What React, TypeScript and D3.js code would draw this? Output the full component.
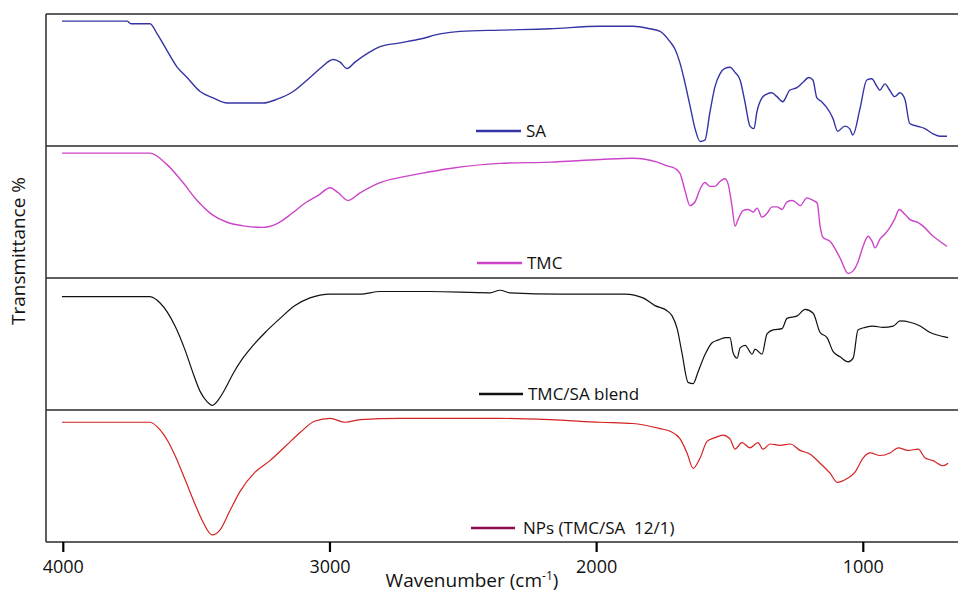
import React from "react";
import * as d3 from "d3";

// ---- data (wavenumber cm-1, transmittance in % of each panel) ----
const saWave = [4005,3761,3746,3675,3648,3611,3573,3536,3487,3438,3386,3251,3198,3138,3075,3037,2988,2962,2936,2906,2850,2812,2737,2662,2587,2512,2362,2175,1987,1864,1800,1762,1725,1706,1687,1669,1650,1631,1612,1594,1575,1556,1537,1519,1500,1481,1462,1444,1425,1410,1399,1380,1362,1343,1324,1302,1276,1249,1227,1204,1189,1174,1156,1126,1114,1096,1069,1051,1039,1013,987,968,949,938,919,901,882,863,844,826,799,769,739,712,686];
const saT = [96,96,94,94,86,73,60,52,41,36,32,32,35,41,52,59,66,64,59,64,72,76,79,82,86,88,89,90,92,92,90,88,80,74,63,48,30,12,2,3,25,45,55,59,60,56,50,33,14,12,25,36,39,40,37,33,42,44,48,52,50,36,33,25,20,10,14,12,7,27,50,51,45,42,47,42,37,40,35,16,14,12,8,6,6];

const tmcWave = [4005,3675,3611,3555,3498,3442,3386,3318,3255,3198,3142,3093,3044,2999,2969,2932,2887,2812,2737,2662,2550,2362,2175,1987,1864,1773,1736,1706,1687,1669,1650,1631,1612,1594,1575,1556,1537,1519,1507,1492,1481,1470,1451,1432,1413,1398,1380,1361,1342,1323,1305,1286,1267,1256,1237,1211,1188,1173,1162,1151,1124,1087,1057,1038,1020,1001,982,967,956,937,918,900,881,866,843,824,798,776,738,712,686];
const tmcT = [96,96,87,74,59,48,42,39,38,41,49,57,63,69,65,59,65,73,77,80,84,88,89,91,92,89,86,84,80,67,55,58,68,73,70,70,74,76,72,54,39,44,51,52,50,53,46,49,54,54,52,58,59,58,55,61,59,57,39,30,27,14,2,4,11,23,31,27,22,29,33,38,45,52,48,44,42,39,31,27,23];

const blendWave = [4005,3675,3637,3581,3543,3513,3487,3461,3442,3420,3393,3363,3330,3292,3243,3187,3131,3075,2999,2887,2812,2625,2400,2362,2325,2137,1987,1893,1826,1781,1736,1717,1698,1680,1657,1638,1620,1593,1567,1545,1518,1500,1488,1473,1462,1443,1417,1406,1380,1361,1338,1305,1286,1248,1218,1188,1162,1136,1113,1087,1057,1038,1020,993,963,926,888,862,825,787,749,723,682];
const blendT = [87,87,82,64,45,27,13,5,2,6,15,27,38,48,59,70,80,86,89,89,91,91,90,92,90,89,89,89,86,80,76,72,62,43,20,19,28,42,51,53,55,55,43,39,47,49,42,46,42,58,61,62,70,72,77,74,59,55,44,40,36,39,61,63,64,63,64,68,67,64,59,57,55];

const npWave = [4005,3675,3637,3607,3581,3543,3506,3476,3442,3412,3375,3337,3281,3225,3168,3112,3056,2999,2943,2887,2737,2550,2362,2175,1987,1864,1762,1725,1687,1661,1638,1612,1586,1556,1526,1500,1481,1455,1425,1395,1376,1349,1312,1274,1237,1199,1162,1124,1098,1061,1031,1001,974,937,900,869,832,794,768,738,701,682];
const npT = [92,92,86,77,66,47,28,14,4,8,23,38,53,62,73,84,93,95,92,94,95,95,95,94,92,91,87,85,79,68,56,64,77,80,82,79,71,76,72,76,71,75,74,75,70,67,60,52,45,48,53,64,68,66,68,72,70,71,64,62,58,60];

const seriesNames = ["SA", "TMC", "TMC/SA blend", "NPs (TMC/SA  12/1)"];
const xTicks = [4000, 3000, 2000, 1000];

const W = 958, H = 594;
const left = 46, top = 14, panelH = 132, right = 958;

const curveColors = ["#3434a4", "#cc44c8", "#111111", "#d42222"];
const legendColors = ["#3434a4", "#cc44c8", "#111111", "#8a0c4e"];
const legendPos = [
  { x1: 476, x2: 521, y: 131, tx: 526, ty: 137 },
  { x1: 477, x2: 522, y: 263, tx: 527, ty: 269 },
  { x1: 479, x2: 523, y: 394, tx: 528, ty: 400 },
  { x1: 471, x2: 515, y: 528, tx: 523, ty: 534 },
];

export default function App() {
  const x = d3.scaleLinear().domain([4000, 1000]).range([63.3, 863.3]);
  const data = [
    [saWave, saT],
    [tmcWave, tmcT],
    [blendWave, blendT],
    [npWave, npT],
  ];
  const font = "'Open Sans', 'Noto Sans', sans-serif";
  const bottom = top + 4 * panelH;

  return (
    <svg
      width={W}
      height={H}
      style={{ position: "absolute", left: 0, top: 0, background: "#fff" }}
      fontFamily={font}
    >
      <rect x={0} y={0} width={W} height={H} fill="#fff" />
      {data.map(([ws, ts], i) => {
        const y = d3
          .scaleLinear()
          .domain([0, 100])
          .range([top + (i + 1) * panelH - 2, top + i * panelH + 2]);
        const pts = ws.map((w, k) => [w, ts[k]] as [number, number]);
        const line = d3
          .line<[number, number]>()
          .x((d) => x(d[0]))
          .y((d) => y(d[1]))
          .curve(d3.curveMonotoneX);
        return (
          <path
            key={i}
            d={line(pts) || ""}
            fill="none"
            stroke={curveColors[i]}
            strokeWidth={i >= 2 ? 1.2 : 1.4}
            strokeLinejoin="round"
          />
        );
      })}
      {/* frame */}
      {[0, 1, 2, 3, 4].map((k) => (
        <line
          key={k}
          x1={left}
          x2={right}
          y1={top + k * panelH}
          y2={top + k * panelH}
          stroke="#2a2a2a"
          strokeWidth={1.5}
        />
      ))}
      <line x1={left} x2={left} y1={top} y2={bottom} stroke="#2a2a2a" strokeWidth={1.5} />
      {/* ticks */}
      {xTicks.map((t) => (
        <g key={t}>
          <line x1={x(t)} x2={x(t)} y1={bottom} y2={bottom + 10} stroke="#000" strokeWidth={2.2} />
          <text x={x(t)} y={573} textAnchor="middle" fontSize={18} fill="#111">
            {t}
          </text>
        </g>
      ))}
      <text x={472} y={587} textAnchor="middle" fontSize={19} fill="#111">
        Wavenumber (cm
        <tspan fontSize={12} dy={-7}>-1</tspan>
        <tspan dy={7}>)</tspan>
      </text>
      <text
        transform="translate(25,251) rotate(-90)"
        textAnchor="middle"
        fontSize={19}
        fill="#111"
      >
        Transmittance %
      </text>
      {/* legends */}
      {seriesNames.map((n, i) => {
        const p = legendPos[i];
        return (
          <g key={n}>
            <line x1={p.x1} x2={p.x2} y1={p.y} y2={p.y} stroke={legendColors[i]} strokeWidth={2.6} />
            <text x={p.tx} y={p.ty} fontSize={17} fill="#111" style={{ whiteSpace: "pre" }}>
              {n}
            </text>
          </g>
        );
      })}
    </svg>
  );
}
